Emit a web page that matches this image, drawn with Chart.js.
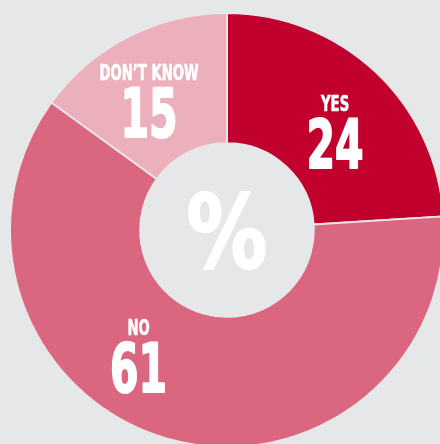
<!DOCTYPE html>
<html>
<head>
<meta charset="utf-8">
<script src="https://cdn.jsdelivr.net/npm/chart.js@4.4.1/dist/chart.umd.min.js"></script>
<style>
    html, body {
        margin: 0;
        padding: 0;
        width: 440px;
        height: 444px;
        overflow: hidden;
        background: #e6e7e8;
    }
    #pie {
        position: absolute;
        left: 9px;
        top: 12px;
    }
</style>
</head>
<body>
<canvas id="pie" width="436" height="436"></canvas>
<script>
// 數據
const labels = ['YES', 'NO', 'DON’T KNOW'];
const values = [24, 61, 15];
const colors = ['#c1002e', '#db667f', '#ebb0bc'];

// 標籤位置 (扇形內角度比例, 半徑比例)
const labelAngleFrac = [0.525, 0.595, 0.454];
const labelRadiusFrac = [0.50, 0.46, 0.55];

const bgColor = '#e6e7e8';
const fontFamily = '"Liberation Sans Narrow", "DejaVu Sans Condensed", "Roboto", sans-serif';

// 字體壓窄 (condensed), 加一點描邊讓字更粗
function drawCentered(ctx, text, x, y, sx, stroke) {
    const m = ctx.measureText(text);
    ctx.save();
    ctx.translate(x, y + (m.actualBoundingBoxAscent - m.actualBoundingBoxDescent) / 2);
    ctx.scale(sx, 1);
    ctx.fillText(text, 0, 0);
    if (stroke) {
        ctx.lineWidth = stroke;
        ctx.lineJoin = 'round';
        ctx.strokeText(text, 0, 0);
    }
    ctx.restore();
}

const sliceLabels = {
    id: 'sliceLabels',
    afterDatasetsDraw(chart) {
        const ctx = chart.ctx;
        const arcs = chart.getDatasetMeta(0).data;
        ctx.save();
        ctx.fillStyle = '#ffffff';
        ctx.strokeStyle = '#ffffff';
        ctx.textAlign = 'center';
        ctx.textBaseline = 'alphabetic';
        arcs.forEach((arc, i) => {
            const p = arc.getProps(['x', 'y', 'startAngle', 'endAngle', 'innerRadius', 'outerRadius'], true);
            const a = p.startAngle + labelAngleFrac[i] * (p.endAngle - p.startAngle);
            const r = p.innerRadius + labelRadiusFrac[i] * (p.outerRadius - p.innerRadius);
            const x = p.x + r * Math.cos(a);
            const y = p.y + r * Math.sin(a);
            ctx.font = 'bold 21px ' + fontFamily;
            drawCentered(ctx, labels[i], x, y - 20, 0.7, 0.6);
            ctx.font = 'bold 67px ' + fontFamily;
            drawCentered(ctx, String(values[i]), x, y + 20, 0.68, 2);
        });
        // 中間的 %
        const p0 = arcs[0];
        ctx.font = 'bold 102px ' + fontFamily;
        drawCentered(ctx, '%', p0.x, p0.y, 0.88, 2);
        ctx.restore();
    }
};

new Chart(document.getElementById('pie'), {
    type: 'doughnut',
    data: {
        labels: labels,
        datasets: [{
            data: values,
            backgroundColor: colors,
            borderColor: bgColor,
            borderWidth: 2
        }]
    },
    options: {
        responsive: false,
        animation: false,
        cutout: '40%',
        plugins: {
            legend: { display: false },
            tooltip: { enabled: false }
        }
    },
    plugins: [sliceLabels]
});
</script>
</body>
</html>
